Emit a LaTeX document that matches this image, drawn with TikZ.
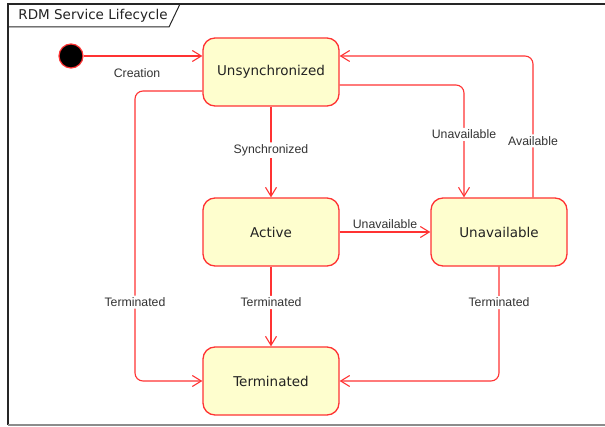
\documentclass[tikz,border=0pt]{standalone}
\usepackage{fontspec}
\setmainfont{DejaVu Sans}
\newfontfamily\labelfont{Liberation Sans}
\usetikzlibrary{arrows.meta}

\definecolor{edgered}{RGB}{255,51,51}
\definecolor{statefill}{RGB}{254,254,206}
\definecolor{inktext}{RGB}{34,34,34}
\definecolor{labeltext}{RGB}{51,51,51}

\tikzset{
  statebox/.style={draw=edgered, fill=statefill, line width=1.3pt,
    rounded corners=12pt, minimum width=136pt, minimum height=68pt,
    inner sep=0pt, font=\fontsize{13.5}{16}\selectfont, text=inktext},
  initdot/.style={circle, draw=edgered, fill=black, line width=1.2pt,
    minimum size=24pt, inner sep=0pt},
  trans/.style={draw=edgered, line width=1.1pt, rounded corners=8pt,
    -{Straight Barb[length=9pt,width=11pt,line width=1.1pt]}},
  edgelabel/.style={font=\labelfont\fontsize{12.3}{14}\selectfont,
    text=labeltext, inner sep=2pt},
  onwire/.style={edgelabel, fill=white},
  frameline/.style={draw=black!85, line width=1.4pt},
}

\begin{document}
\begin{tikzpicture}[x=1pt, y=-1pt]
  \useasboundingbox (0,0) rectangle (605,427);

  % frame with its name tab
  \draw[frameline] (8,425) -- (8,4) -- (605,4);
  \draw[draw=black!45, line width=1.4pt] (8,425) -- (605,425);
  \draw[frameline, line width=1pt] (8,27) -- (169,27) -- (180,4);
  \node[font=\fontsize{13.5}{16}\selectfont, text=inktext] (title) at (93,16) {RDM Service Lifecycle};

  % states
  \node[initdot] (start) at (71,56) {};
  \node[statebox] (unsync) at (271,72) {Unsynchronized};
  \node[statebox] (active) at (271,232) {Active};
  \node[statebox] (unavail) at (499,232) {Unavailable};
  \node[statebox] (term) at (271,381) {Terminated};
  \coordinate (leftbend) at (135,381);

  % transitions
  \draw[trans] (start) -- ([yshift=16pt]unsync.west)
    node[edgelabel, pos=0.45, below=10pt] {Creation};
  \draw[trans] (unsync) -- (active)
    node[onwire, pos=0.48] {Synchronized};
  \draw[trans] (active) -- (unavail)
    node[edgelabel, midway, above=1pt] {Unavailable};
  \draw[trans] ([yshift=-13pt]unsync.east) -| ([xshift=-35pt]unavail.north)
    node[onwire, pos=0.72] {Unavailable};
  \draw[trans] ([xshift=34pt]unavail.north) |- ([yshift=16pt]unsync.east)
    node[onwire, pos=0.2] {Available};
  \draw[trans] ([yshift=-19pt]unsync.west) -| (leftbend)
    node[onwire, pos=0.864] {Terminated} -- (term.west);
  \draw[trans] (active) -- (term)
    node[onwire, pos=0.45] {Terminated};
  \draw[trans] (unavail) |- (term.east)
    node[onwire, pos=0.157] {Terminated};
\end{tikzpicture}
\end{document}
